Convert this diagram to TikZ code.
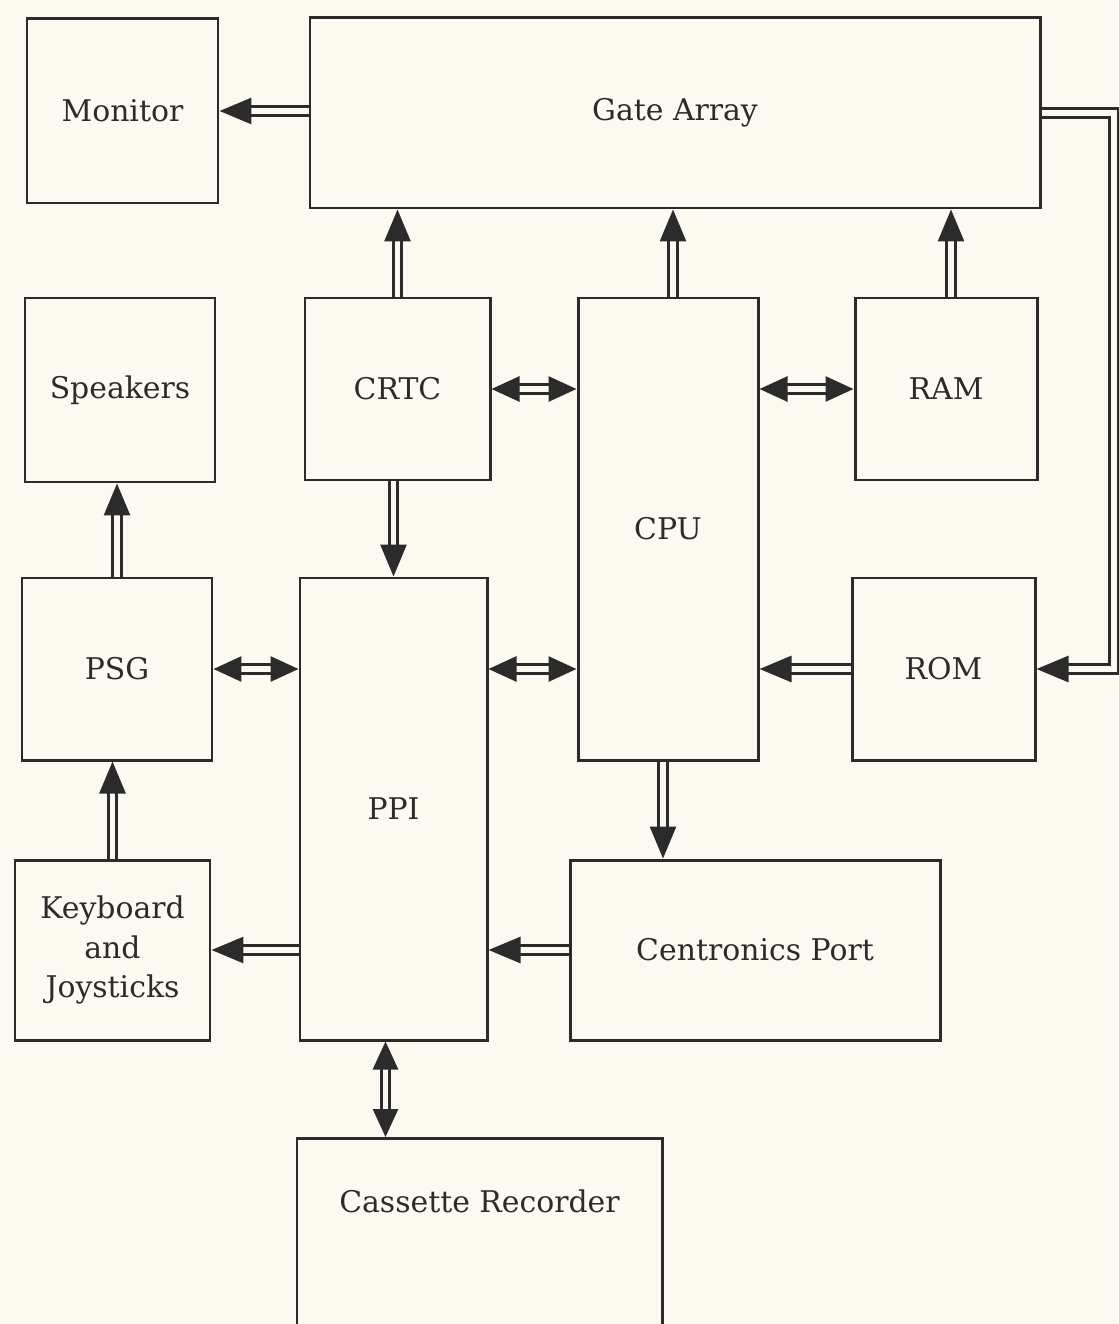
\documentclass[tikz,border=0pt]{standalone}
\usepackage{fontspec}
\setmainfont{DejaVu Serif}
\usetikzlibrary{arrows.meta, positioning, calc}
\definecolor{paper}{HTML}{FCFAF0}
\definecolor{ink}{HTML}{2B2B2B}
\tikzset{
  every picture/.style={line width=1.7pt},
  blk/.style={draw=ink, text=ink, align=center, inner sep=4pt, font=\fontsize{17}{22.5}\selectfont},
  bus/.style={draw=ink, double=paper, double distance=3.4pt, line width=1.6pt, line join=miter,
    -{Triangle[length=6.4mm, width=5.2mm]}},
  bibus/.style={bus, {Triangle[length=5.6mm, width=5mm]}-{Triangle[length=5.6mm, width=5mm]}},
}
\begin{document}
\begin{tikzpicture}
  \fill[paper] (0,0) rectangle (22.36,-26.48);
  \useasboundingbox (0,0) rectangle (22.36,-26.48);
  \node[blk, minimum width=3.82cm, minimum height=3.68cm] (mon) at (2.45,-2.22) {Monitor};
  \node[blk, minimum width=14.6cm, minimum height=3.8cm] (ga) at (13.5,-2.26) {Gate Array};
  \node[blk, minimum width=3.8cm, minimum height=3.68cm] (spk) at (2.4,-7.8) {Speakers};
  \node[blk, minimum width=3.7cm, minimum height=3.64cm] (crtc) at (7.95,-7.78) {CRTC};
  \node[blk, minimum width=3.6cm, minimum height=9.24cm] (cpu) at (13.36,-10.58) {CPU};
  \node[blk, minimum width=3.64cm, minimum height=3.64cm] (ram) at (18.92,-7.78) {RAM};
  \node[blk, minimum width=3.8cm, minimum height=3.64cm] (psg) at (2.34,-13.38) {PSG};
  \node[blk, minimum width=3.74cm, minimum height=9.24cm] (ppi) at (7.87,-16.18) {PPI};
  \node[blk, minimum width=3.66cm, minimum height=3.64cm] (rom) at (18.87,-13.38) {ROM};
  \node[blk, minimum width=3.9cm, minimum height=3.6cm] (kbd) at (2.25,-19.0) {Keyboard\\and\\Joysticks};
  \node[blk, minimum width=7.4cm, minimum height=3.6cm] (cen) at (15.1,-19.0) {Centronics Port};
  \node[blk, minimum width=7.3cm, anchor=north, inner ysep=1.02cm, text depth=2.6cm] (cas) at (9.59,-22.74) {Cassette Recorder};
  \draw[bus] (mon.east -| ga.west) -- (mon.east);
  \draw[bus] (crtc.north) -- (crtc.north |- ga.south);
  \draw[bus] ([xshift=1mm]cpu.north) -- ([xshift=1mm]cpu.north |- ga.south);
  \draw[bus] ([xshift=1mm]ram.north) -- ([xshift=1mm]ram.north |- ga.south);
  \draw[bibus] (crtc.east) -- (crtc.east -| cpu.west);
  \draw[bibus] (ram.west -| cpu.east) -- (ram.west);
  \draw[bus] (ppi.north |- crtc.south) -- (ppi.north);
  \draw[bus] (psg.north) -- (psg.north |- spk.south);
  \draw[bibus] (psg.east) -- (psg.east -| ppi.west);
  \draw[bibus] (ppi.east |- rom.west) -- (cpu.west |- rom.west);
  \draw[bus] (rom.west) -- (rom.west -| cpu.east);
  \draw[bus] (ga.east) -- ++(1.44,0) |- (rom.east);
  \draw[bus] ([xshift=-1mm]cpu.south) -- ([xshift=-1mm]cpu.south |- cen.north);
  \draw[bus] (cen.west) -- (cen.west -| ppi.east);
  \draw[bus] (kbd.east -| ppi.west) -- (kbd.east);
  \draw[bus] (kbd.north) -- (kbd.north |- psg.south);
  \draw[bibus] ([xshift=-1.6mm]ppi.south) -- ([xshift=-1.6mm]ppi.south |- cas.north);
\end{tikzpicture}
\end{document}
